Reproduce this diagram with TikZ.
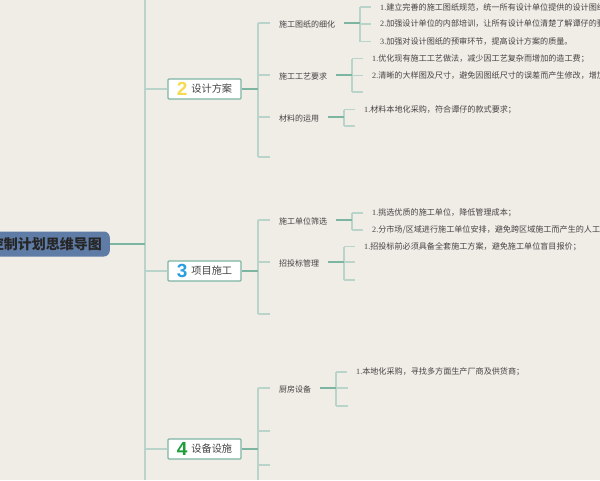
\documentclass[tikz,border=0pt]{standalone}
\usepackage{fontspec}
\setmainfont{Liberation Serif}
\setsansfont{Liberation Sans}
\newfontfamily\cjk{Noto Sans CJK SC}
\definecolor{paper}{HTML}{F0ECE6}
\definecolor{lightline}{HTML}{B9D5CB}
\definecolor{darkline}{HTML}{7DB5A3}
\definecolor{rootblue}{HTML}{5F7CA6}
\definecolor{inktext}{HTML}{444444}
\definecolor{numyellow}{HTML}{F6DA50}
\definecolor{numblue}{HTML}{2A9FE0}
\definecolor{numgreen}{HTML}{1E9E3A}
\newcommand{\bignum}[2]{\smash{\raisebox{-3pt}{\color{#1}\fontsize{19}{19}\selectfont\bfseries\sffamily #2}}}
\newcommand{\lnum}[1]{{\rmfamily #1.}}
\tikzset{
    rootnode/.style={fill=rootblue,rounded corners=6pt,minimum height=25pt,inner xsep=8pt,inner ysep=0pt,anchor=east,font=\cjk\fontsize{14}{16}\selectfont\bfseries,text=black!85},
    topic/.style={draw=darkline,line width=1.2pt,fill=white,rounded corners=1pt,minimum width=73pt,minimum height=20pt,inner sep=0pt,font=\cjk\fontsize{10.2}{12}\selectfont,text=inktext},
    sub/.style={anchor=west,inner xsep=9pt,inner ysep=0pt,text height=9pt,text depth=1pt,font=\cjk\fontsize{8}{10}\selectfont,text=inktext},
    leaf/.style={anchor=west,inner xsep=9pt,inner ysep=0pt,font=\cjk\fontsize{8.1}{10}\selectfont,text=inktext},
    thinl/.style={draw=lightline,line width=1.2pt},
    thickl/.style={draw=darkline,line width=1.4pt}
}
\begin{document}
\begin{tikzpicture}[x=1pt,y=-1pt]
    \clip (0,0) rectangle (600,480);
    \fill[paper] (0,0) rectangle (600,480);

    \coordinate (top) at (145,0);
    \coordinate (bot) at (145,480);
    \node[rootnode] (root) at (110,244) {控制计划思维导图};
    \node[topic] (design) at (204.5,89) {\bignum{numyellow}{2} \,设计方案};
    \node[topic] (build) at (204.5,271) {\bignum{numblue}{3} \,项目施工};
    \node[topic] (equip) at (204.5,449) {\bignum{numgreen}{4} \,设备设施};

    % main spine
    \draw[thinl] (top) -- (bot);
    \draw[thickl] (root.east) -- (top |- root.east);
    \foreach \t in {design,build,equip}
        \draw[thinl] (top |- \t.west) -- (\t.west);

    % second level
    \node[sub] (drawing) at (270,23) {施工图纸的细化};
    \node[sub] (craft) at (270,75) {施工工艺要求};
    \node[sub] (material) at (270,117) {材料的运用};
    \coordinate (designend) at (270,157);
    \node[sub] (select) at (270,220) {施工单位筛选};
    \node[sub] (bidding) at (270,262) {招投标管理};
    \coordinate (buildend) at (270,314);
    \node[sub] (kitchen) at (270,388) {厨房设备};
    \coordinate (equipa) at (270,431);
    \coordinate (equipb) at (270,465);
    \coordinate (equipend) at (258,480);
    \coordinate (forktwo) at (258,0);

    \draw[thinl] (forktwo |- drawing.west) -- (forktwo |- designend);
    \draw[thinl] (forktwo |- select.west) -- (forktwo |- buildend);
    \draw[thinl] (forktwo |- kitchen.west) -- (equipend);
    \foreach \t in {drawing,craft,material,select,bidding,kitchen}
        \draw[thinl] (forktwo |- \t.west) -- (\t.west);
    \foreach \t in {designend,buildend,equipa,equipb}
        \draw[thinl] (forktwo |- \t) -- (\t);
    \foreach \t in {design,build,equip}
        \draw[thickl] (\t.east) -- (forktwo |- \t.east);

    % third level, drawings
    \node[leaf] (da) at (371,7) {\lnum{1}建立完善的施工图纸规范，统一所有设计单位提供的设计图纸};
    \node[leaf] (db) at (371,24) {\lnum{2}加强设计单位的内部培训，让所有设计单位清楚了解谭仔的要};
    \node[leaf] (dc) at (371,41.5) {\lnum{3}加强对设计图纸的预审环节，提高设计方案的质量。};
    \coordinate (df) at (360,23);
    \draw[thinl] (df |- da.west) -- (df |- dc.west);
    \foreach \t in {da,db,dc}
        \draw[thinl] (df |- \t.west) -- (\t.west);
    \draw[thickl] (drawing.east) -- (df |- drawing.east);

    % third level, craft
    \node[leaf] (ca) at (363,58.5) {\lnum{1}优化现有施工工艺做法，减少因工艺复杂而增加的造工费；};
    \node[leaf] (cb) at (363,75.5) {\lnum{2}清晰的大样图及尺寸，避免因图纸尺寸的误差而产生修改，增加};
    \coordinate (cc) at (363,92);
    \coordinate (cf) at (352,75);
    \draw[thinl] (cf |- ca.west) -- (cf |- cc);
    \foreach \t in {ca.west,cb.west,cc}
        \draw[thinl] (cf |- \t) -- (\t);
    \draw[thickl] (craft.east) -- (cf |- craft.east);

    % third level, material
    \node[leaf] (ma) at (355,109.5) {\lnum{1}材料本地化采购，符合谭仔的款式要求；};
    \coordinate (mb) at (355,126);
    \coordinate (mf) at (344,117);
    \draw[thinl] (mf |- ma.west) -- (mf |- mb);
    \foreach \t in {ma.west,mb}
        \draw[thinl] (mf |- \t) -- (\t);
    \draw[thickl] (material.east) -- (mf |- material.east);

    % third level, contractor
    \node[leaf] (sa) at (363,213) {\lnum{1}挑选优质的施工单位，降低管理成本；};
    \node[leaf] (sb) at (363,230) {\lnum{2}分市场/区域进行施工单位安排，避免跨区域施工而产生的人工补};
    \coordinate (sf) at (352,220);
    \draw[thinl] (sf |- sa.west) -- (sf |- sb.west);
    \foreach \t in {sa,sb}
        \draw[thinl] (sf |- \t.west) -- (\t.west);
    \draw[thickl] (select.east) -- (sf |- select.east);

    % third level, bidding
    \node[leaf] (ba) at (355,246.5) {\lnum{1}招投标前必须具备全套施工方案，避免施工单位盲目报价；};
    \coordinate (bb) at (355,262);
    \coordinate (bc) at (355,280);
    \coordinate (bf) at (344,262);
    \draw[thinl] (bf |- ba.west) -- (bf |- bc);
    \foreach \t in {ba.west,bb,bc}
        \draw[thinl] (bf |- \t) -- (\t);
    \draw[thickl] (bidding.east) -- (bf |- bidding.east);

    % third level, kitchen
    \node[leaf] (ka) at (347,372) {\lnum{1}本地化采购，寻找多方面生产厂商及供货商；};
    \coordinate (kb) at (348,388);
    \coordinate (kc) at (348,406);
    \coordinate (kf) at (336,388);
    \draw[thinl] (kf |- ka.west) -- (kf |- kc);
    \foreach \t in {ka.west,kb,kc}
        \draw[thinl] (kf |- \t) -- (\t);
    \draw[thickl] (kitchen.east) -- (kf |- kitchen.east);
\end{tikzpicture}
\end{document}
